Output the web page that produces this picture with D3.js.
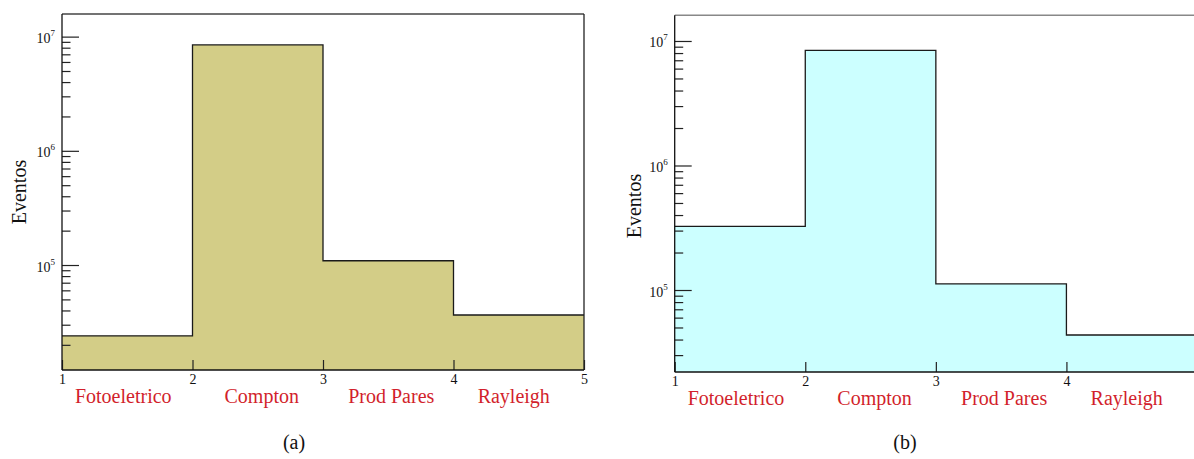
<!DOCTYPE html>
<html>
<head>
<meta charset="utf-8">
<script src="https://cdn.jsdelivr.net/npm/d3@7"></script>
<style>
  html, body { margin: 0; padding: 0; background: #ffffff; }
  svg { display: block; font-family: "Liberation Serif", "DejaVu Serif", serif; }
</style>
</head>
<body>
<svg id="chart" width="1194" height="459"></svg>
<script>
// ---- data ----
const categories = ["Fotoeletrico", "Compton", "Prod Pares", "Rayleigh"];
const binEdges = [1, 2, 3, 4, 5];
const eventsA = [24000, 8460000, 109000, 36500];
const eventsB = [324000, 8410000, 112000, 43500];
const yDomainA = [12040, 1.578e7];
const yDomainB = [21950, 1.608e7];
const xTickLabels = ["1", "2", "3", "4", "5"];
const yTitle = "Eventos";
const captions = ["(a)", "(b)"];

const svg = d3.select("#chart");

function drawPanel(cfg) {
  const g = svg.append("g");
  const x = d3.scaleLinear().domain([binEdges[0], binEdges[binEdges.length - 1]]).range([cfg.left, cfg.right]);
  const y = d3.scaleLog().domain(cfg.yDomain).range([cfg.bottom, cfg.top]);

  // step points
  const pts = cfg.values.map((v, i) => [binEdges[i], v]);
  pts.push([binEdges[binEdges.length - 1], cfg.values[cfg.values.length - 1]]);

  // filled area
  const area = d3.area().x(d => x(d[0])).y0(cfg.bottom).y1(d => y(d[1])).curve(d3.curveStepAfter);
  g.append("path").attr("d", area(pts)).attr("fill", cfg.fill).attr("stroke", "none");

  // step outline
  const line = d3.line().x(d => x(d[0])).y(d => y(d[1])).curve(d3.curveStepAfter);
  g.append("path").attr("d", line(pts))
    .attr("fill", "none").attr("stroke", "#1a1a1a").attr("stroke-width", 1.3);

  // frame top/right
  g.append("line").attr("x1", cfg.left).attr("x2", cfg.right).attr("y1", cfg.top).attr("y2", cfg.top)
    .attr("stroke", cfg.frameColor).attr("stroke-width", 1.4);
  g.append("line").attr("x1", cfg.right).attr("x2", cfg.right).attr("y1", cfg.top).attr("y2", cfg.bottom)
    .attr("stroke", "#222").attr("stroke-width", 1.3);

  // x axis
  const xAxis = d3.axisBottom(x).tickValues(binEdges)
    .tickFormat((d, i) => xTickLabels[i]).tickSizeInner(-10).tickSizeOuter(0).tickPadding(4);
  const gx = g.append("g").attr("transform", `translate(0,${cfg.bottom})`).call(xAxis);
  gx.attr("font-family", null);
  gx.select(".domain").remove();
  gx.selectAll(".tick line").attr("stroke", "#222").attr("stroke-width", 1.2);
  gx.selectAll(".tick text").attr("font-family", "Liberation Serif").attr("font-size", 14).attr("fill", "#111");

  // category labels
  g.selectAll("text.cat").data(categories).enter().append("text")
    .attr("class", "cat")
    .attr("x", (d, i) => (x(binEdges[i]) + x(binEdges[i + 1])) / 2 + cfg.catShift[i])
    .attr("y", cfg.bottom + 33)
    .attr("text-anchor", "middle")
    .attr("font-family", "Liberation Serif")
    .attr("font-size", 20)
    .attr("fill", "#d21f2c")
    .text(d => d);

  // y axis ticks
  const all = y.ticks();
  const majors = all.filter(t => Math.abs(Math.log10(t) - Math.round(Math.log10(t))) < 1e-9);
  const minors = all.filter(t => majors.indexOf(t) < 0);
  const gyMinor = g.append("g").attr("transform", `translate(${cfg.left},0)`)
    .call(d3.axisLeft(y).tickValues(minors).tickFormat("").tickSizeInner(-8.5).tickSizeOuter(0));
  gyMinor.select(".domain").remove();
  gyMinor.selectAll(".tick line").attr("stroke", "#222").attr("stroke-width", 1.2);

  const gyMajor = g.append("g").attr("transform", `translate(${cfg.left},0)`)
    .call(d3.axisLeft(y).tickValues(majors).tickFormat(d => String(Math.round(Math.log10(d))))
      .tickSizeInner(-17).tickSizeOuter(0).tickPadding(7));
  gyMajor.attr("font-family", null);
  gyMajor.select(".domain").remove();
  gyMajor.selectAll(".tick line").attr("stroke", "#222").attr("stroke-width", 1.2);
  gyMajor.selectAll(".tick text").each(function () {
    const t = d3.select(this);
    const exp = t.text();
    t.text(null).attr("dy", null).attr("y", 6).attr("font-family", "Liberation Serif").attr("fill", "#111");
    t.append("tspan").attr("font-size", 14).text("10");
    t.append("tspan").attr("font-size", 9).attr("dy", -7).text(exp);
  });

  // axis lines (left, bottom)
  g.append("line").attr("x1", cfg.left).attr("x2", cfg.left).attr("y1", cfg.top).attr("y2", cfg.bottom)
    .attr("stroke", "#111").attr("stroke-width", 1.3);
  g.append("line").attr("x1", cfg.left).attr("x2", cfg.right).attr("y1", cfg.bottom).attr("y2", cfg.bottom)
    .attr("stroke", "#111").attr("stroke-width", 1.3);

  // y title
  g.append("text")
    .attr("transform", `translate(${cfg.titleX},${cfg.titleY}) rotate(-90)`)
    .attr("text-anchor", "middle").attr("dy", "0.35em")
    .attr("font-family", "Liberation Serif")
    .attr("font-size", 20).attr("fill", "#111")
    .text(yTitle);

  // caption
  g.append("text").attr("x", cfg.capX).attr("y", 449).attr("text-anchor", "middle")
    .attr("font-family", "Liberation Serif")
    .attr("font-size", 20).attr("fill", "#111").text(cfg.caption);
}

drawPanel({
  left: 62, right: 584, top: 14, bottom: 370,
  yDomain: yDomainA, values: eventsA, fill: "#d3cd87", frameColor: "#444",
  titleX: 19, titleY: 192, capX: 294, caption: captions[0],
  catShift: [-4, 4, 3, -5]
});
drawPanel({
  left: 674.7, right: 1197, top: 15.3, bottom: 372,
  yDomain: yDomainB, values: eventsB, fill: "#ccffff", frameColor: "#888",
  titleX: 634, titleY: 206, capX: 905, caption: captions[1],
  catShift: [-4, 4, 3, -5]
});
</script>
</body>
</html>
